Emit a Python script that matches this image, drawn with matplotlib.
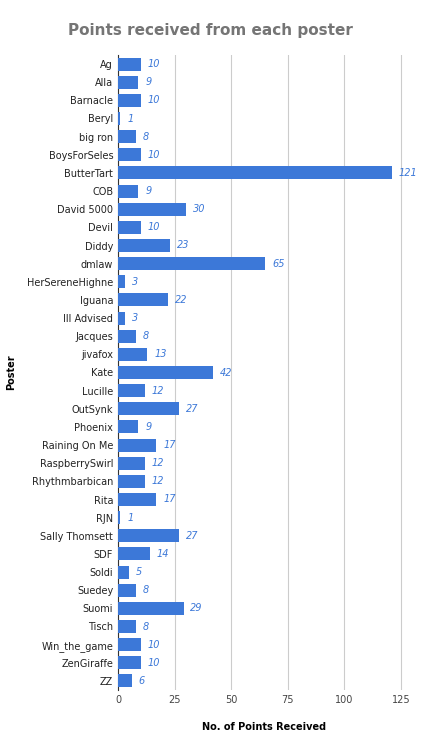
import matplotlib
matplotlib.use("Agg")
import matplotlib.pyplot as plt

posters = ["Ag","Alla","Barnacle","Beryl","big ron","BoysForSeles","ButterTart","COB","David 5000","Devil","Diddy","dmlaw","HerSereneHighne","Iguana","Ill Advised","Jacques","jivafox","Kate","Lucille","OutSynk","Phoenix","Raining On Me","RaspberrySwirl","Rhythmbarbican","Rita","RJN","Sally Thomsett","SDF","Soldi","Suedey","Suomi","Tisch","Win_the_game","ZenGiraffe","ZZ"]
points = [10,9,10,1,8,10,121,9,30,10,23,65,3,22,3,8,13,42,12,27,9,17,12,12,17,1,27,14,5,8,29,8,10,10,6]
xticks = [0,25,50,75,100,125]

fig = plt.figure(figsize=(4.21,7.5), dpi=100)
ax = fig.add_axes([118/421, 1-690/750, (410-118)/421, (690-55)/750])
y = list(range(len(posters)))
ax.barh(y, points, height=0.72, color="#3c78d8", zorder=3)
for yi, v in zip(y, points):
    ax.text(v+3, yi, str(v), va="center", ha="left", fontsize=7, style="italic", color="#3c78d8")
ax.set_yticks(y)
ax.set_yticklabels(posters, fontsize=7, color="#222222")
ax.set_ylim(len(posters)-0.5, -0.5)
ax.set_xlim(0, 129)
ax.set_xticks(xticks)
ax.set_xticklabels([str(t) for t in xticks], fontsize=7, color="#444444")
ax.grid(axis="x", color="#cccccc", linewidth=0.8, zorder=0)
for s in ["top","right","bottom"]:
    ax.spines[s].set_visible(False)
ax.spines["left"].set_color("#333333")
ax.tick_params(length=0)
ax.set_xlabel("No. of Points Received", fontsize=7, fontweight="bold", labelpad=12)
ax.set_ylabel("Poster", fontsize=7, fontweight="bold", labelpad=8)
fig.text(0.5, 1-30/750, "Points received from each poster", ha="center", va="center",
         fontsize=11, fontweight="bold", color="#757575")
fig.savefig("out.png", dpi=100)
